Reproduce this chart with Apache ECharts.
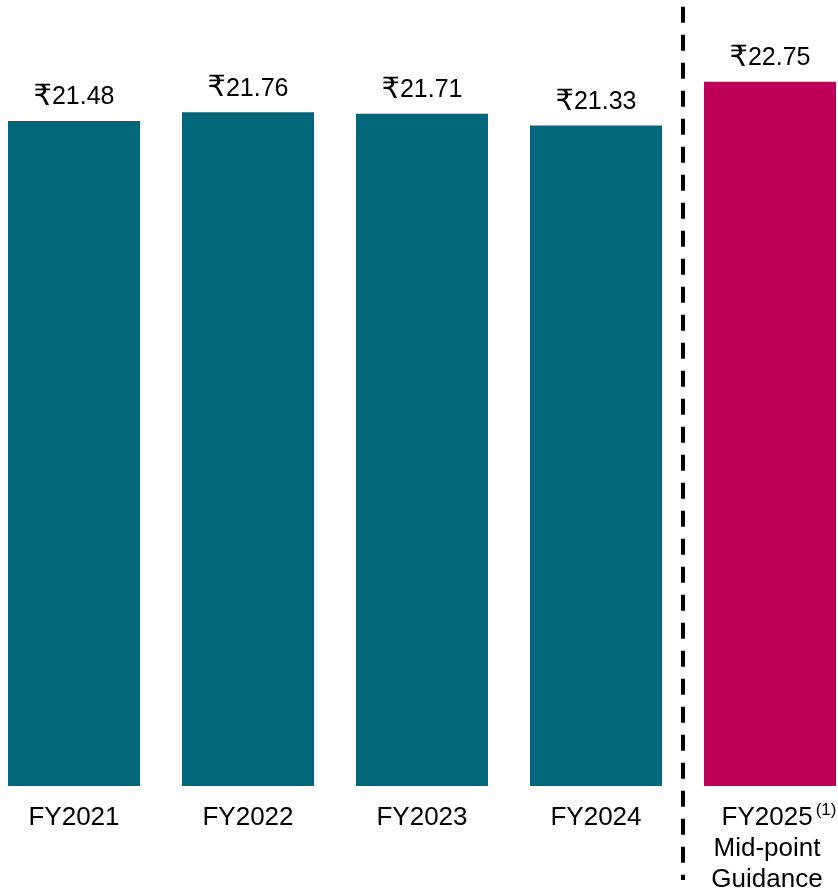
<!DOCTYPE html>
<html>
<head>
<meta charset="utf-8">
<script src="https://cdn.jsdelivr.net/npm/echarts@6/dist/echarts.min.js"></script>
<style>html,body{margin:0;padding:0;background:#fff}#c{width:838px;height:891px}</style>
</head>
<body>
<div id="c"></div>
<script>
var categories = ['FY2021', 'FY2022', 'FY2023', 'FY2024', 'FY2025'];
var values = [21.48, 21.76, 21.71, 21.33, 22.75];
var valueLabels = ['21.48', '21.76', '21.71', '21.33', '22.75'];
var currency = '₹';
var footnote = '(1)';
var extraLines = ['Mid-point', 'Guidance'];
var barColors = ['#00687A', '#00687A', '#00687A', '#00687A', '#BC0058'];

var chart = echarts.init(document.getElementById('c'));
var FONT = 'Arial, "Liberation Sans", "Noto Sans", sans-serif';
chart.setOption({
  animation: false,
  grid: { left: -13, right: -19, top: 12, bottom: 105, containLabel: false, outerBoundsMode: 'none' },
  xAxis: {
    type: 'category',
    data: categories,
    axisLine: { show: false },
    axisTick: { show: false },
    axisLabel: {
      interval: 0,
      margin: 16,
      color: '#000',
      fontFamily: FONT,
      fontSize: 26,
      lineHeight: 31,
      verticalAlign: 'top',
      formatter: function (v, i) {
        if (i === 4) return '{pad|}{a|' + v + '}{sup|' + footnote + '}\n{b|' + extraLines[0] + '}\n{b|' + extraLines[1] + '}';
        return '{a|' + v + '}';
      },
      rich: {
        pad: { width: 18, lineHeight: 31 },
        a: { fontSize: 26, lineHeight: 31, fontFamily: FONT, color: '#000' },
        b: { fontSize: 26, lineHeight: 31, fontFamily: FONT, color: '#000', padding: [0, 6, 0, 0] },
        sup: { fontSize: 17, lineHeight: 31, fontFamily: FONT, color: '#000', verticalAlign: 'top', padding: [0, 0, 14, 3] }
      }
    }
  },
  yAxis: { type: 'value', min: 0, max: 25, show: false, splitLine: { show: false } },
  series: [{
    type: 'bar',
    barWidth: 132,
    data: values.map(function (v, i) { return { value: v, itemStyle: { color: barColors[i] } }; }),
    label: {
      show: true,
      position: 'top',
      distance: 9,
      color: '#000',
      fontFamily: FONT,
      fontSize: 25,
      formatter: function (p) { return '{r|' + currency + '}{n|' + valueLabels[p.dataIndex] + '}'; },
      rich: {
        r: { fontSize: 29, fontFamily: '"DejaVu Sans", sans-serif', color: '#000' },
        n: { fontSize: 25, fontFamily: FONT, color: '#000' }
      }
    }
  }]
});
var x1 = chart.convertToPixel({ xAxisIndex: 0 }, categories[3]);
var x2 = chart.convertToPixel({ xAxisIndex: 0 }, categories[4]);
var xm = (x1 + x2) / 2;
chart.setOption({
  graphic: [{
    type: 'line',
    shape: { x1: xm, y1: 6.7, x2: xm, y2: 880 },
    style: { stroke: '#000', lineWidth: 4, lineDash: [16, 12], lineCap: 'butt' },
    z: 100
  }]
});
</script>
</body>
</html>
